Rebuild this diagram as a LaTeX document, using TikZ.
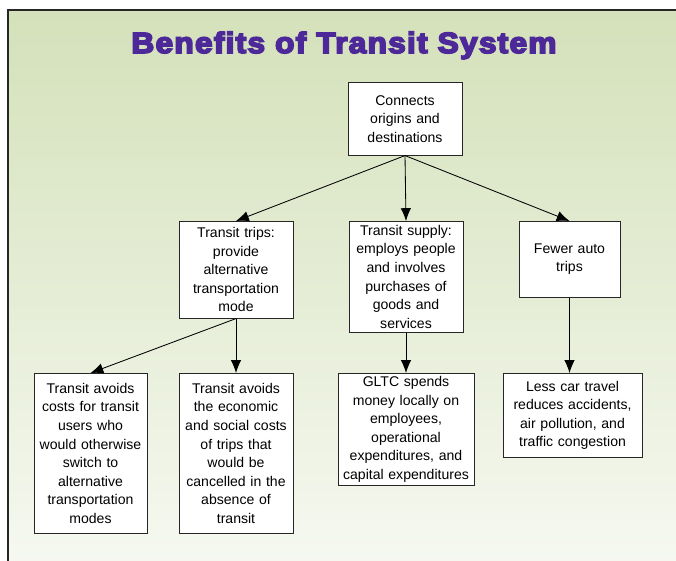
\documentclass[tikz,border=0pt]{standalone}
\usepackage{fontspec}
\setmainfont{Liberation Sans}
\newfontfamily\titlefont{Liberation Sans Bold}[FakeBold=5.5, LetterSpace=4]
\usetikzlibrary{arrows.meta, shadows}
\definecolor{titlepurple}{RGB}{76,40,153}
\definecolor{bgtop}{RGB}{212,225,186}
\definecolor{bgbottom}{RGB}{247,249,242}

\begin{document}
\begin{tikzpicture}[>={Latex[length=0.32cm,width=0.26cm]},
    box/.style={draw=black!85, fill=white, align=center, inner sep=0.05cm, anchor=north,
      font=\fontsize{10}{13.2}\selectfont,
      drop shadow={shadow xshift=0.03cm, shadow yshift=-0.03cm, fill=black!50, opacity=0.6}},
    link/.style={->, draw=black, line width=0.6pt}]
  \useasboundingbox (0,0) rectangle (16.9,-14);
  \clip (0,0) rectangle (16.9,-14);
  \shade[top color=bgtop, bottom color=bgbottom] (0.2,-0.25) rectangle (17.5,-14.5);
  \draw[line width=1.2pt, black!85] (0.2,-0.25) rectangle (17.5,-14.5);

  \node[anchor=base, text=titlepurple, inner sep=0pt] (title) at (8.6,-1.325)
    {\resizebox{10.625cm}{0.53cm}{\titlefont Benefits of Transit System}};

  % top
  \node[box, text width=2.75cm, minimum height=1.825cm] (origins) at (10.125,-2.05)
    {Connects\\origins and\\destinations};

  % middle row
  \node[box, text width=2.75cm, minimum height=2.425cm] (trips) at (5.9,-5.525)
    {Transit trips:\\provide\\alternative\\transportation\\mode};
  \node[box, text width=2.75cm, minimum height=2.775cm] (supply) at (10.15,-5.525)
    {Transit supply:\\employs people\\and involves\\purchases of\\goods and\\services};
  \node[box, text width=2.425cm, minimum height=1.9cm] (fewer) at (14.2375,-5.525)
    {Fewer auto\\trips};

  % bottom row
  \node[box, text width=2.725cm, minimum height=4cm] (users) at (2.2625,-9.325)
    {Transit avoids\\costs for transit\\users who\\would otherwise\\switch to\\alternative\\transportation\\modes};
  \node[box, text width=2.75cm, minimum height=4cm] (cancelled) at (5.9,-9.325)
    {Transit avoids\\the economic\\and social costs\\of trips that\\would be\\cancelled in the\\absence of\\transit};
  \node[box, text width=3.3cm, minimum height=2.8cm] (spends) at (10.15,-9.325)
    {GLTC spends\\money locally on\\employees,\\operational\\expenditures, and\\capital expenditures};
  \node[box, text width=3.375cm, minimum height=2.1cm] (lesscar) at (14.3125,-9.325)
    {Less car travel\\reduces accidents,\\air pollution, and\\traffic congestion};

  \draw[link] (origins.south) -- (trips.north);
  \draw[link] (origins.south) -- (supply.north);
  \draw[link] (origins.south) -- (fewer.north);
  \draw[link] (trips.south) -- (users.north);
  \draw[link] (trips.south) -- (cancelled.north);
  \draw[link] (supply.south) -- (spends.north);
  \draw[link] (fewer.south) -- (fewer.south |- lesscar.north);
\end{tikzpicture}
\end{document}
